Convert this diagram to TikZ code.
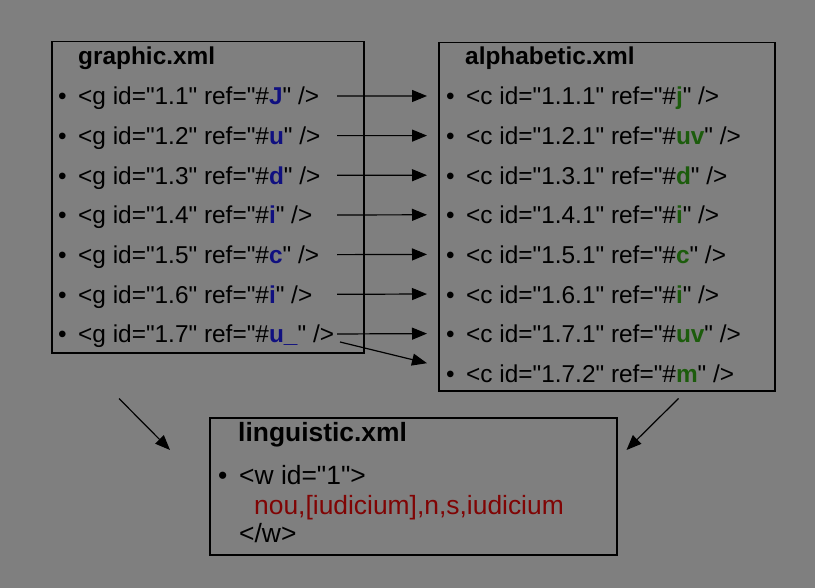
\documentclass[tikz,border=0pt]{standalone}
\usepackage{fontspec}
\setmainfont{Liberation Sans}[Ligatures=TeXOff]
\usetikzlibrary{arrows.meta,calc}

\definecolor{bggray}{RGB}{127,127,127}
\definecolor{refblue}{RGB}{16,16,128}
\definecolor{refgreen}{RGB}{28,92,12}
\definecolor{refred}{RGB}{128,4,4}

\newcommand{\gref}[1]{\textcolor{refblue}{\textbf{#1}}}
\newcommand{\aref}[1]{\textcolor{refgreen}{\textbf{#1}}}
\newcommand{\bul}{\makebox[20bp][l]{\textbullet}}

\begin{document}
\begin{tikzpicture}[x=1bp, y=-1bp,
    font=\fontsize{24.4bp}{28bp}\selectfont,
    frame/.style={draw, line width=1.5bp, inner sep=0pt, anchor=north west},
    title/.style={anchor=base west, inner sep=0pt, font=\fontsize{24.4bp}{28bp}\selectfont\bfseries},
    entry/.style={anchor=base west, inner sep=0pt},
    bigentry/.style={entry, font=\fontsize{26.4bp}{30bp}\selectfont},
    link/.style={line width=1.2bp, -{Triangle[length=15bp,width=12bp]}}]
  \fill[bggray] (0,0) rectangle (815,588);
  \useasboundingbox (0,0) rectangle (815,588);

  % the three files
  \node[frame, minimum width=312bp, minimum height=311bp] (gbox) at (51,41) {};
  \node[frame, minimum width=336bp, minimum height=348bp] (abox) at (438,42) {};
  \node[frame, minimum width=407bp, minimum height=137bp] (lbox) at (209,417) {};

  \node[title] (gtitle) at (78,65) {graphic.xml};
  \node[title] (atitle) at (465,65) {alphabetic.xml};
  \node[title, font=\fontsize{26.4bp}{30bp}\selectfont\bfseries] (ltitle) at (238,441) {linguistic.xml};

  \foreach \i/\id/\r in {1/1.1/J, 2/1.2/u, 3/1.3/d, 4/1.4/i, 5/1.5/c, 6/1.6/i, 7/1.7/u\_}
    \node[entry] (g\i) at (58, 65.3+39.67*\i) {\bul<g id="\id" ref="\#\gref{\r}" />};

  \foreach \i/\id/\r in {1/1.1.1/j, 2/1.2.1/uv, 3/1.3.1/d, 4/1.4.1/i, 5/1.5.1/c, 6/1.6.1/i, 7/1.7.1/uv, 8/1.7.2/m}
    \node[entry] (c\i) at (446, 65.4+39.6*\i) {\bul<c id="\id" ref="\#\aref{\r}" />};

  \node[bigentry] (l1) at (218,484) {\makebox[21bp][l]{\textbullet}<w id="1">};
  \node[bigentry, text=refred] (l2) at (254,514) {nou,[iudicium],n,s,iudicium};
  \node[bigentry] (l3) at (239,542) {</w>};

  % links
  \coordinate (gcut) at (337,0);
  \coordinate (cend) at (427,0);
  \foreach \i in {1,...,7}
    \draw[link] ([yshift=9bp]g\i.base -| gcut) -- ([yshift=9bp]c\i.base -| cend);
  \draw[link] ([xshift=3bp,yshift=1bp]g7.base -| gcut) -- ([yshift=19bp]c8.base -| cend);

  \draw[link] ($(gbox.south west)+(68,45)$) -- ($(lbox.north west)+(-39,33)$);
  \draw[link] ($(abox.south east)+(-97,7)$) -- ($(lbox.north east)+(9,33)$);
\end{tikzpicture}
\end{document}
